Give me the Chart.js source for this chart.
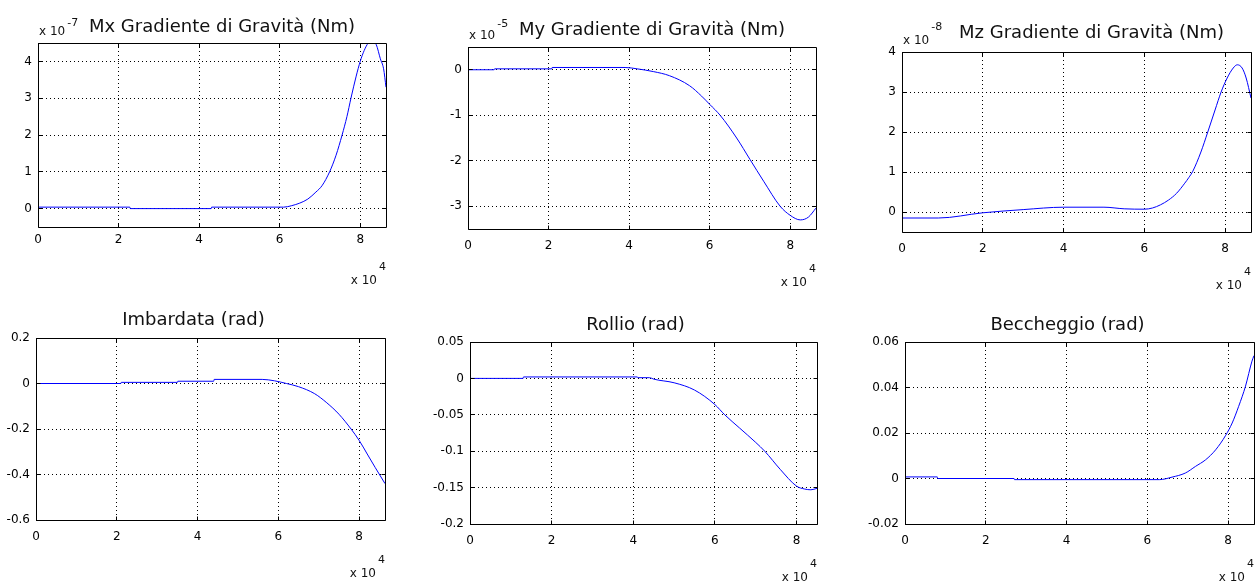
<!DOCTYPE html>
<html>
<head>
<meta charset="utf-8">
<title>Gradiente di gravità e assetto</title>
<script src="https://cdn.jsdelivr.net/npm/chart.js@4.4.1/dist/chart.umd.min.js"></script>
<style>
  html, body { margin: 0; padding: 0; background: #fff; overflow: hidden; }
  body { width: 1255px; height: 585px; position: relative; }
  canvas { position: absolute; }
</style>
</head>
<body>
<script>
// time axis (s), shared ticks
const xTicks = [0, 20000, 40000, 60000, 80000];

// Mx gravity gradient torque, units of 1e-7 Nm
const mxTime   = [0, 22800, 22900, 43000, 43100, 61000, 63000, 65000, 67000, 69000, 70500, 72400, 74000, 75500, 76700, 77700, 79000, 80000, 81000, 82000, 83000, 84000, 85000, 85800, 86400];
const mxValues = [0.04, 0.04, 0, 0, 0.04, 0.04, 0.08, 0.15, 0.26, 0.45, 0.62, 1.0, 1.45, 2.0, 2.5, 3.0, 3.6, 4.0, 4.3, 4.5, 4.56, 4.45, 4.07, 3.8, 3.3];
const mxTicks  = [0, 1, 2, 3, 4];

// My gravity gradient torque, units of 1e-5 Nm
const myTime   = [0, 6500, 6600, 20800, 20900, 39000, 42000, 46000, 50000, 55000, 58000, 60000, 62600, 66700, 70000, 73400, 77500, 80000, 82500, 84500, 86400];
const myValues = [0, 0, 0.02, 0.02, 0.05, 0.05, 0.02, -0.04, -0.13, -0.35, -0.58, -0.76, -1.0, -1.5, -1.97, -2.45, -3.0, -3.2, -3.3, -3.24, -3.04];
const myTicks  = [-3, -2, -1, 0];

// Mz gravity gradient torque, units of 1e-8 Nm
const mzTime   = [0, 9000, 20000, 30000, 40000, 50000, 55000, 60000, 62000, 64000, 66000, 68000, 70000, 71000, 72000, 74000, 75700, 77500, 79000, 80500, 82000, 83000, 84200, 85200, 86400];
const mzValues = [-0.15, -0.15, -0.02, 0.06, 0.12, 0.12, 0.08, 0.07, 0.1, 0.18, 0.3, 0.47, 0.72, 0.86, 1.02, 1.5, 2.0, 2.55, 3.0, 3.35, 3.6, 3.68, 3.6, 3.35, 2.85];
const mzTicks  = [0, 1, 2, 3, 4];

// yaw (rad)
const yawTime   = [0, 21000, 21100, 35000, 35100, 44000, 44100, 56000, 59000, 62000, 65000, 69000, 72000, 75000, 78000, 80000, 82000, 84000, 86400];
const yawValues = [0, 0, 0.005, 0.005, 0.01, 0.01, 0.018, 0.018, 0.012, 0, -0.014, -0.045, -0.085, -0.135, -0.2, -0.25, -0.31, -0.37, -0.44];
const yawTicks  = [-0.6, -0.4, -0.2, 0, 0.2];

// roll (rad)
const rollTime   = [0, 13000, 13100, 41000, 41100, 44000, 45000, 50000, 55000, 60000, 62400, 66000, 70000, 72200, 76000, 80000, 82000, 83500, 85000];
const rollValues = [0, 0, 0.002, 0.002, 0.001, 0.001, -0.001, -0.006, -0.016, -0.036, -0.05, -0.068, -0.088, -0.1, -0.125, -0.148, -0.152, -0.153, -0.151];
const rollTicks  = [-0.2, -0.15, -0.1, -0.05, 0, 0.05];

// pitch (rad)
const pitchTime   = [0, 8000, 8100, 27000, 27100, 63000, 66100, 69400, 71900, 74400, 76900, 79400, 81000, 82600, 84300, 85900, 86400];
const pitchValues = [0.0007, 0.0007, 0, 0, -0.0005, -0.0005, 0.0006, 0.0024, 0.0053, 0.0082, 0.0126, 0.019, 0.0244, 0.0317, 0.0406, 0.0516, 0.054];
const pitchTicks  = [-0.02, 0, 0.02, 0.04, 0.06];

Chart.defaults.font.family = '"DejaVu Sans", sans-serif';
Chart.defaults.color = '#000';

const PAD = { left: 60, top: 50, right: 6, bottom: 75 };
const FONT = '"DejaVu Sans", sans-serif';

const panels = [
  { title: 'Mx Gradiente di Gravità (Nm)', exp: '-7', time: mxTime, values: mxValues, yTicks: mxTicks, yMin: -0.5, yMax: 4.5, xMax: 86400,
    box: { left: 38, top: 43, right: 386, bottom: 227 }, titleDx: 10, titleDy: -11, expDy: -17, xGap: 6 },
  { title: 'My Gradiente di Gravità (Nm)', exp: '-5', time: myTime, values: myValues, yTicks: myTicks, yMin: -3.5, yMax: 0.5, xMax: 86400,
    box: { left: 468, top: 47, right: 816, bottom: 229 }, titleDx: 10, titleDy: -12, expDy: -20, xGap: 10 },
  { title: 'Mz Gradiente di Gravità (Nm)', exp: '-8', time: mzTime, values: mzValues, yTicks: mzTicks, yMin: -0.5, yMax: 4, xMax: 86400,
    box: { left: 902, top: 52, right: 1251, bottom: 232 }, titleDx: 15, titleDy: -14, expDy: -22, xGap: 10 },
  { title: 'Imbardata (rad)', time: yawTime, values: yawValues, yTicks: yawTicks, yMin: -0.6, yMax: 0.2, xMax: 86400,
    box: { left: 36, top: 338, right: 385, bottom: 520 }, titleDx: -17, titleDy: -13, xGap: 10 },
  { title: 'Rollio (rad)', time: rollTime, values: rollValues, yTicks: rollTicks, yMin: -0.2, yMax: 0.05, xMax: 85000,
    box: { left: 470, top: 342, right: 817, bottom: 524 }, titleDx: -8, titleDy: -12, xGap: 10 },
  { title: 'Beccheggio (rad)', time: pitchTime, values: pitchValues, yTicks: pitchTicks, yMin: -0.02, yMax: 0.06, xMax: 86400,
    box: { left: 905, top: 342, right: 1254, bottom: 524 }, titleDx: -12, titleDy: -12, xGap: 10 }
];

// same pixel snapping Chart.js uses for 1px grid lines
const snap = v => Math.round(v - 0.5) + 0.5;

// box around the axes with inward tick marks, drawn over the curve
const axesBox = {
  id: 'axesBox',
  afterDatasetsDraw(chart) {
    const { ctx, chartArea: a, scales } = chart;
    const l = snap(a.left), t = snap(a.top);
    const r = snap(a.right), b = snap(a.bottom);
    ctx.save();
    ctx.strokeStyle = '#000';
    ctx.lineWidth = 1;
    ctx.setLineDash([]);
    ctx.beginPath();
    ctx.rect(l, t, r - l, b - t);
    scales.x.ticks.forEach(tk => {
      const px = snap(scales.x.getPixelForValue(tk.value));
      ctx.moveTo(px, b); ctx.lineTo(px, b - 4);
      ctx.moveTo(px, t); ctx.lineTo(px, t + 4);
    });
    scales.y.ticks.forEach(tk => {
      const py = snap(scales.y.getPixelForValue(tk.value));
      ctx.moveTo(l, py); ctx.lineTo(l + 4, py);
      ctx.moveTo(r, py); ctx.lineTo(r - 4, py);
    });
    ctx.stroke();
    ctx.restore();
  }
};

// title plus the "x 10^n" multipliers
const axesText = {
  id: 'axesText',
  afterDraw(chart, args, opts) {
    const { ctx, chartArea: a } = chart;
    const p = opts.panel;
    ctx.save();
    ctx.fillStyle = '#111';
    ctx.textBaseline = 'alphabetic';

    ctx.font = '18px ' + FONT;
    ctx.textAlign = 'center';
    ctx.fillText(p.title, (a.left + a.right) / 2 + p.titleDx, a.top + p.titleDy);

    ctx.textAlign = 'left';
    if (p.exp) {
      ctx.font = '12px ' + FONT;
      ctx.fillText('x 10', a.left + 1, a.top - 8);
      const w = ctx.measureText('x 10').width;
      ctx.font = '11px ' + FONT;
      ctx.fillText(p.exp, a.left + 1 + w + 2, a.top + p.expDy);
    }

    ctx.font = '12px ' + FONT;
    const w10 = ctx.measureText('x 10').width;
    const xEnd = a.right - 9;
    ctx.fillText('x 10', xEnd - w10, a.bottom + 57);
    ctx.font = '11px ' + FONT;
    ctx.fillText('4', xEnd + 2, a.bottom + 43);
    ctx.restore();
  }
};

panels.forEach(p => {
  const w = p.box.right - p.box.left;
  const h = p.box.bottom - p.box.top;
  const canvas = document.createElement('canvas');
  canvas.width = w + PAD.left + PAD.right;
  canvas.height = h + PAD.top + PAD.bottom;
  canvas.style.left = (p.box.left - PAD.left) + 'px';
  canvas.style.top = (p.box.top - PAD.top) + 'px';
  document.body.appendChild(canvas);

  new Chart(canvas, {
    type: 'line',
    data: {
      datasets: [{
        data: p.time.map((t, i) => ({ x: t, y: p.values[i] })),
        borderColor: '#0000ff',
        borderWidth: 1,
        pointRadius: 0,
        cubicInterpolationMode: 'monotone',
        fill: false
      }]
    },
    options: {
      responsive: false,
      animation: false,
      events: [],
      layout: { padding: { left: 0, top: PAD.top, right: PAD.right, bottom: 0 } },
      plugins: {
        legend: { display: false },
        tooltip: { enabled: false },
        axesText: { panel: p }
      },
      scales: {
        x: {
          type: 'linear',
          min: 0,
          max: p.xMax,
          afterBuildTicks: s => { s.ticks = xTicks.map(v => ({ value: v })); },
          afterFit: s => { s.height = PAD.bottom; },
          grid: { color: '#000', lineWidth: 1, drawTicks: false },
          border: { display: false, dash: [1, 3] },
          ticks: { font: { size: 12 }, color: '#000', padding: p.xGap, maxRotation: 0, autoSkip: false,
                   callback: v => String(v / 10000) }
        },
        y: {
          type: 'linear',
          min: p.yMin,
          max: p.yMax,
          afterBuildTicks: s => { s.ticks = p.yTicks.map(v => ({ value: v })); },
          afterFit: s => { s.width = PAD.left; },
          grid: { color: '#000', lineWidth: 1, drawTicks: false },
          border: { display: false, dash: [1, 3] },
          ticks: { font: { size: 12 }, color: '#000', padding: 6, autoSkip: false,
                   callback: v => String(v) }
        }
      }
    },
    plugins: [axesBox, axesText]
  });
});
</script>
</body>
</html>
